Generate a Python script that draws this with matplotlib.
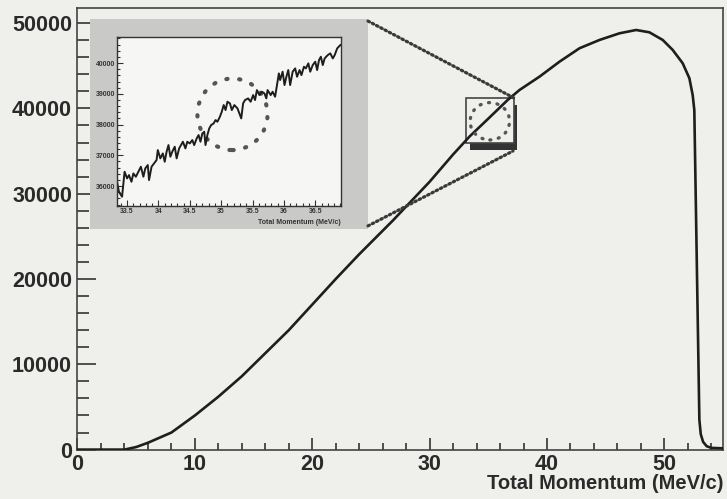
import numpy as np
import matplotlib
matplotlib.use('Agg')
import matplotlib.pyplot as plt
from matplotlib.patches import Ellipse, Rectangle, ConnectionPatch
from matplotlib.ticker import MultipleLocator, FixedLocator

plt.rcParams['font.family'] = ['Liberation Sans', 'DejaVu Sans']
plt.rcParams['font.weight'] = 'bold'

# Spectre total (MeV/c, coups)
p_tot = [0, 4.0, 5, 6, 8, 10, 12, 14, 16, 18, 20, 22, 24, 26.9, 28, 30, 32, 33.4,
         35, 36.66, 37.66, 39.36, 41.06, 42.77, 44.47, 46.17, 47.59, 48.72, 49.86,
         50.71, 51.56, 52.13, 52.41, 52.55, 52.98, 53.1, 53.3, 53.6, 54.0, 55.0]
n_tot = [0, 0, 300, 800, 2000, 4000, 6200, 8600, 11300, 14000, 17000, 20000, 22900,
         26900, 28500, 31400, 34600, 36700, 38800, 41000, 42160, 43720, 45470,
         47050, 48020, 48800, 49190, 48920, 48020, 46850, 45290, 43530, 41570,
         39800, 3500, 1800, 900, 400, 200, 150]

# Zoom entre 33.3 et 36.9 MeV/c
p_zoom = [33.34, 33.37, 33.42, 33.46, 33.50, 33.53, 33.57, 33.60, 33.64, 33.68,
          33.72, 33.76, 33.79, 33.83, 33.85, 33.89, 33.93, 33.97, 33.99, 34.03,
          34.07, 34.10, 34.13, 34.16, 34.19, 34.22, 34.26, 34.29, 34.33, 34.36,
          34.39, 34.43, 34.46, 34.50, 34.54, 34.57, 34.61, 34.64, 34.67, 34.70,
          34.73, 34.75, 34.78, 34.81, 34.84, 34.88, 34.91, 34.94, 34.98, 35.01,
          35.04, 35.07, 35.10, 35.14, 35.17, 35.21, 35.26, 35.29, 35.32, 35.35,
          35.38, 35.43, 35.47, 35.51, 35.54, 35.57, 35.61, 35.65, 35.69, 35.72,
          35.74, 35.79, 35.82, 35.86, 35.89, 35.92, 35.94, 35.98, 36.01, 36.04,
          36.07, 36.10, 36.14, 36.18, 36.21, 36.25, 36.28, 36.32, 36.35, 36.39,
          36.42, 36.46, 36.50, 36.53, 36.56, 36.59, 36.62, 36.65, 36.70, 36.74,
          36.78, 36.81, 36.85, 36.90]
n_zoom = [36141, 35816, 35654, 36467, 36250, 36358, 36141, 36412, 36304, 36467,
          36629, 36304, 36575, 36684, 36196, 36629, 36738, 36846, 37171, 36900,
          37063, 36792, 37117, 37334, 36955, 37117, 37280, 36900, 37225, 37334,
          37442, 37225, 37442, 37388, 37496, 37334, 37551, 37659, 37442, 37713,
          37767, 37334, 37659, 37876, 37984, 38038, 38147, 38092, 38255, 38418,
          38635, 38472, 38743, 38689, 38472, 38635, 38526, 38364, 38201, 38689,
          38797, 38851, 38743, 38960, 38797, 39122, 38960, 39068, 39014, 38851,
          39122, 38960, 39068, 38906, 39285, 39664, 39448, 39719, 39285, 39556,
          39773, 39285, 39719, 39827, 39556, 39773, 39610, 39881, 39827, 39990,
          39719, 39935, 40044, 39773, 40098, 40206, 39935, 40152, 40261, 40315,
          40152, 40261, 40477, 40586]

fundo = '#efefec'
traco = '#1e1e1e'
fig = plt.figure(figsize=(7.27, 4.99), dpi=100, facecolor=fundo)

# Grafico principal
ax = fig.add_axes([0.1066, 0.099, 0.888, 0.885], facecolor=fundo)
ax.plot(p_tot, n_tot, color=traco, lw=1.9, zorder=4)
ax.set_xlim(0, 55)
ax.set_ylim(0, 51770)
ax.xaxis.set_major_locator(MultipleLocator(10))
ax.xaxis.set_minor_locator(MultipleLocator(2))
ax.yaxis.set_major_locator(MultipleLocator(10000))
ax.yaxis.set_minor_locator(MultipleLocator(2000))
ax.tick_params(axis='y', which='major', direction='in', length=14, width=1.2,
               labelsize=15.5, pad=4, colors='#333333', labelcolor='#2a2a2a')
ax.tick_params(axis='y', which='minor', direction='in', length=8.5, width=1.2, colors='#333333')
ax.tick_params(axis='x', which='major', direction='in', length=9, width=1.2,
               labelsize=15.5, pad=3, colors='#333333', labelcolor='#2a2a2a')
ax.tick_params(axis='x', which='minor', direction='in', length=5, width=1.2, colors='#333333')
for lab in ax.get_xticklabels() + ax.get_yticklabels():
    lab.set_fontweight('bold')
for s in ax.spines.values():
    s.set_color('#444444')
    s.set_linewidth(1.2)
ax.set_xlabel('Total Momentum (MeV/c)', fontsize=14.5, fontweight='bold',
              color='#2a2a2a', labelpad=2)
ax.xaxis.set_label_coords(1.0, -0.055)
ax.xaxis.label.set_horizontalalignment('right')

# Caixa de zoom com sombra e circulo
caixa_x0, caixa_x1 = 33.1, 37.15
caixa_y0, caixa_y1 = 35900, 41250
ax.add_patch(Rectangle((caixa_x0 + 0.32, caixa_y0 - 800), caixa_x1 - caixa_x0, caixa_y1 - caixa_y0,
                       facecolor='#333333', edgecolor='none', zorder=2))
ax.add_patch(Rectangle((caixa_x0, caixa_y0), caixa_x1 - caixa_x0, caixa_y1 - caixa_y0,
                       facecolor=fundo, edgecolor='#444444', lw=1.2, zorder=3))
circ = Ellipse((35.13, 38490), 3.36, 4380, fill=False, edgecolor='#555555',
               lw=2.4, linestyle=(0, (0.3, 2.3)), zorder=5)
circ.set_capstyle('round')
ax.add_patch(circ)

# Painel cinza e grafico ampliado
painel = fig.add_axes([0.1238, 0.541, 0.3824, 0.421], facecolor='#c9c9c7')
painel.set_xticks([])
painel.set_yticks([])
for s in painel.spines.values():
    s.set_visible(False)

axz = fig.add_axes([0.161, 0.587, 0.308, 0.339], facecolor='#f6f6f4')
axz.plot(p_zoom, n_zoom, color=traco, lw=1.4)
axz.set_xlim(33.34, 36.91)
axz.set_ylim(35350, 40850)
axz.xaxis.set_major_locator(FixedLocator([33.5, 34, 34.5, 35, 35.5, 36, 36.5]))
axz.xaxis.set_minor_locator(MultipleLocator(0.1))
axz.yaxis.set_major_locator(MultipleLocator(1000))
axz.yaxis.set_minor_locator(MultipleLocator(200))
axz.set_xticklabels(['33.5', '34', '34.5', '35', '35.5', '36', '36.5'])
axz.tick_params(which='major', direction='in', length=4, width=0.8, labelsize=5,
                pad=1.5, colors='#333333')
axz.tick_params(which='minor', direction='in', length=2, width=0.8, colors='#333333')
for s in axz.spines.values():
    s.set_color('#333333')
    s.set_linewidth(1.0)
axz.set_xlabel('Total Momentum (MeV/c)', fontsize=5, fontweight='bold', color='#333333')
axz.xaxis.set_label_coords(1.0, -0.075)
axz.xaxis.label.set_horizontalalignment('right')
circ_z = Ellipse((35.18, 38335), 1.118, 2328, fill=False, edgecolor='#555555',
                 lw=3.0, linestyle=(0, (0.3, 2.8)))
circ_z.set_capstyle('round')
axz.add_patch(circ_z)

# Linhas pontilhadas ligando o painel a caixa
for canto, alvo in [((1, 0.99), (caixa_x1, caixa_y1)), ((1, 0.015), (caixa_x1 - 0.05, caixa_y0 - 900))]:
    con = ConnectionPatch(xyA=canto, coordsA=painel.transAxes, xyB=alvo, coordsB=ax.transData,
                          color='#3a3a3a', lw=2.3, linestyle=(0, (0.5, 1.0)), zorder=6)
    fig.add_artist(con)

plt.savefig('out.png', dpi=100, facecolor=fundo)
